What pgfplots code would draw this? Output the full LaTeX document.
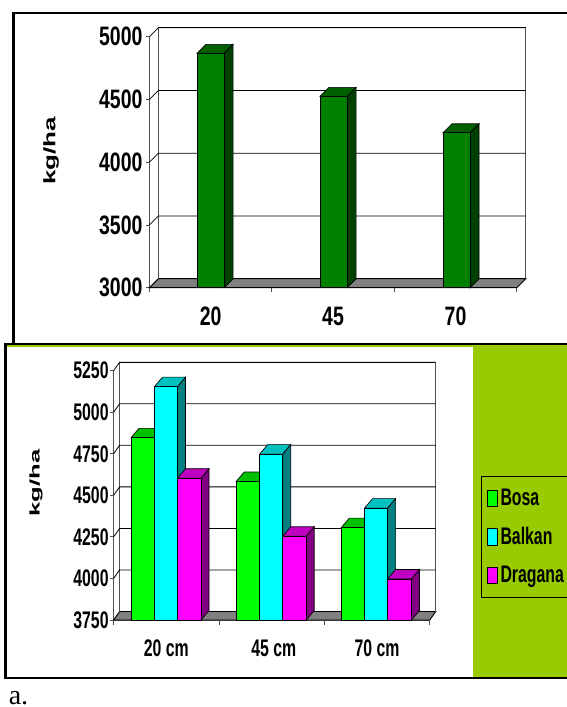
\documentclass[border=0pt]{standalone}
\usepackage{fontspec}
\usepackage{pgfplots}
\pgfplotsset{compat=1.18}
\setmainfont{Liberation Sans}
\newfontfamily\serifa{Liberation Serif}
\newfontfamily\condA[FakeStretch=0.73]{Liberation Sans}
\newfontfamily\condB[FakeStretch=0.66]{Liberation Sans}
\newfontfamily\wideA[FakeStretch=1.56]{Liberation Sans}
\newfontfamily\wideB[FakeStretch=1.83]{Liberation Sans}
\definecolor{panel}{HTML}{99CC00}
\definecolor{wall}{HTML}{505050}
\definecolor{floorc}{HTML}{808080}
\definecolor{darkA}{HTML}{008000}
\definecolor{darkAs}{HTML}{004000}
\definecolor{darkAt}{HTML}{006000}
\definecolor{bosa}{HTML}{00FF00}
\definecolor{bosat}{HTML}{00C000}
\definecolor{bosas}{HTML}{008000}
\definecolor{balkan}{HTML}{00FFFF}
\definecolor{balkant}{HTML}{00C0C0}
\definecolor{balkans}{HTML}{008080}
\definecolor{dragana}{HTML}{FF00FF}
\definecolor{draganat}{HTML}{C000C0}
\definecolor{draganas}{HTML}{800080}

% one grid level: diagonal on the side wall, line on the back wall
\newcommand{\gridlevel}[1]{%
  \pgfmathsetmacro{\gy}{#1+\depthy}%
  \addplot[forget plot,draw=black,line width=0.6pt] coordinates {(0,#1) (\depthx,\gy) (\xend,\gy)};
}
% floor and the outline of the walls
\newcommand{\walls}[2]{%
  \pgfmathsetmacro{\by}{#1+\depthy}%
  \pgfmathsetmacro{\ty}{#2+\depthy}%
  \addplot[forget plot,fill=floorc,draw=black,line width=0.7pt] coordinates {(0,#1) (3,#1) (\xend,\by) (\depthx,\by)} -- cycle;
  \addplot[forget plot,draw=wall,line width=0.7pt] coordinates {(\depthx,\by) (\depthx,\ty)};
  \addplot[forget plot,draw=black,line width=0.8pt] coordinates {(\depthx,\ty) (\xend,\ty)};
  \addplot[forget plot,draw=wall,line width=0.7pt] coordinates {(\xend,\ty) (\xend,\by)};
}
% \bard{left}{right}{value}{base}{front}{side}{top}
\newcommand{\bard}[7]{%
  \pgfmathsetmacro{\rr}{#2+\bardx}%
  \pgfmathsetmacro{\ll}{#1+\bardx}%
  \pgfmathsetmacro{\vv}{#3+\bardy}%
  \pgfmathsetmacro{\bb}{#4+\bardy}%
  \addplot[forget plot,fill=#7,draw=black,line width=0.5pt] coordinates {(#1,#3) (#2,#3) (\rr,\vv) (\ll,\vv)} -- cycle;
  \addplot[forget plot,fill=#6,draw=black,line width=0.5pt] coordinates {(#2,#3) (#2,#4) (\rr,\bb) (\rr,\vv)} -- cycle;
  \addplot[forget plot,fill=#5,draw=black,line width=0.5pt] coordinates {(#1,#4) (#2,#4) (#2,#3) (#1,#3)} -- cycle;
}

\begin{document}
\begin{tikzpicture}[x=0.75pt,y=-0.75pt]
\path[use as bounding box] (0,0) rectangle (567,707);
% frames and panel
\draw[line width=1.8pt] (580,13) -- (13.5,13) -- (13.5,343);
\fill[panel] (5.6,344) rectangle (580,678);
\fill[white] (5.6,347) rectangle (473,677.5);
\draw[line width=1.8pt] (580,344) -- (5.6,344) -- (5.6,678) -- (580,678);
\node[font=\serifa\fontsize{21}{24}\selectfont,anchor=base west,inner sep=0pt] at (8.5,704.5) {a.};

% upper chart
\begin{axis}[
  at={(112.05pt,-215.78pt)},anchor=south west,
  scale only axis,width=275.5pt,height=188.2pt,
  xmin=0,xmax=3,ymin=3000,ymax=5000,clip=false,
  axis x line*=bottom,axis y line*=left,
  axis line style={-,draw=wall,line width=0.7pt},
  xtick={0.5,1.5,2.5},xticklabels={20,45,70},
  major x tick style={draw=none},
  minor xtick={0,1,2,3},
  ytick={3000,3500,4000,4500,5000},
  /pgf/number format/assume math mode=true,
  /pgf/number format/set thousands separator={},
  tick style={draw=wall,line width=0.6pt},
  tick align=outside,
  major tick length=2.7pt,minor tick length=3.5pt,
  yticklabel style={font=\condA\bfseries\fontsize{20}{22}\selectfont,xshift=1pt},
  xticklabel style={font=\condA\bfseries\fontsize{20}{22}\selectfont,yshift=-8pt},
]
\def\depthx{0.0735}\def\depthy{71.7}\def\xend{3.0735}
\walls{3000}{5000}
\gridlevel{3500}
\gridlevel{4000}
\gridlevel{4500}
\gridlevel{5000}
\def\bardx{0.0735}\def\bardy{71.7}
\bard{0.3890}{0.6100}{4868}{3000}{darkA}{darkAs}{darkAt}
\bard{1.3930}{1.6150}{4525}{3000}{darkA}{darkAs}{darkAt}
\bard{2.3975}{2.6190}{4235}{3000}{darkA}{darkAs}{darkAt}
\end{axis}
\node[font=\wideA\bfseries\fontsize{12.5}{14}\selectfont,rotate=90] at (51,150.7) {kg/ha};

% lower chart
\begin{axis}[
  at={(85.2pt,-465pt)},anchor=south west,
  scale only axis,width=237.1pt,height=187pt,
  xmin=0,xmax=3,ymin=3750,ymax=5250,clip=false,
  axis x line*=bottom,axis y line*=left,
  axis line style={-,draw=wall,line width=0.7pt},
  xtick={0.5,1.52,2.5},xticklabels={20 cm,45 cm,70 cm},
  major x tick style={draw=none},
  minor xtick={0,1,2,3},
  ytick={3750,4000,4250,4500,4750,5000,5250},
  /pgf/number format/assume math mode=true,
  /pgf/number format/set thousands separator={},
  tick style={draw=wall,line width=0.6pt},
  tick align=outside,
  major tick length=2.7pt,minor tick length=3.7pt,
  yticklabel style={font=\condB\bfseries\fontsize{18}{20}\selectfont,xshift=2.5pt},
  xticklabel style={font=\condB\bfseries\fontsize{18}{20}\selectfont,yshift=-9pt,text height=12.5pt,text depth=0pt},
  legend style={at={(rel axis cs:1.1636,0.5776)},anchor=north west,
    fill=panel,draw=black,line width=0.6pt,inner xsep=3.5pt,inner ysep=8.5pt,
    font=\condB\bfseries\fontsize{18}{20}\selectfont,
    row sep=12.7pt,
    nodes={inner xsep=2.4pt,inner ysep=1pt}},
  legend cell align=left,
  legend image code/.code={\draw[#1,line width=0.5pt] (0pt,-6.3pt) rectangle (7.6pt,6.3pt);},
]
\def\depthx{0.0569}\def\depthy{51}\def\xend{3.0569}
\walls{3750}{5250}
\gridlevel{4000}
\gridlevel{4250}
\gridlevel{4500}
\gridlevel{4750}
\gridlevel{5000}
\gridlevel{5250}
\def\bardx{0.0760}\def\bardy{57}
\bard{0.1650}{0.3880}{4846}{3750}{bosa}{bosas}{bosat}
\bard{0.3880}{0.6070}{5154}{3750}{balkan}{balkans}{balkant}
\bard{0.6070}{0.8300}{4603}{3750}{dragana}{draganas}{draganat}
\bard{1.1630}{1.3860}{4583}{3750}{bosa}{bosas}{bosat}
\bard{1.3860}{1.6050}{4748}{3750}{balkan}{balkans}{balkant}
\bard{1.6050}{1.8280}{4254}{3750}{dragana}{draganas}{draganat}
\bard{2.1610}{2.3810}{4306}{3750}{bosa}{bosas}{bosat}
\bard{2.3810}{2.6000}{4423}{3750}{balkan}{balkans}{balkant}
\bard{2.6000}{2.8270}{3997}{3750}{dragana}{draganas}{draganat}
\addlegendimage{fill=bosa,draw=black}
\addlegendimage{fill=balkan,draw=black}
\addlegendimage{fill=dragana,draw=black}
\legend{Bosa,Balkan,Dragana}
\end{axis}
\node[font=\wideB\bfseries\fontsize{10.5}{12}\selectfont,rotate=90] at (36,483) {kg/ha};
\end{tikzpicture}
\end{document}
